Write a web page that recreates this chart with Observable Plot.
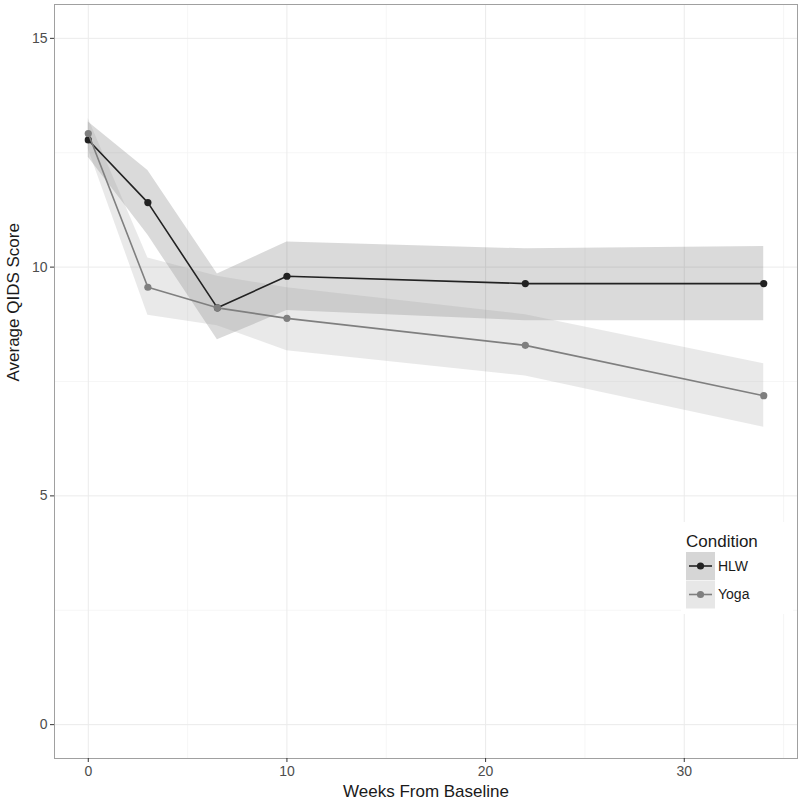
<!DOCTYPE html>
<html>
<head>
<meta charset="utf-8">
<script src="https://cdn.jsdelivr.net/npm/d3@7"></script>
<script src="https://cdn.jsdelivr.net/npm/@observablehq/plot@0.6"></script>
<style>
  body { margin: 0; background: #fff; }
  #chart { width: 800px; height: 800px; }
</style>
</head>
<body>
<div id="chart"></div>
<script>
// ---- data ----
const weeks = [0, 3, 6.5, 10, 22, 34];
const hlwMean  = [12.78, 11.41, 9.11, 9.80, 9.64, 9.64];
const hlwLower = [12.40, 10.70, 8.41, 9.05, 8.83, 8.83];
const hlwUpper = [13.17, 12.11, 9.85, 10.55, 10.40, 10.45];
const yogaMean  = [12.92, 9.56, 9.11, 8.88, 8.29, 7.19];
const yogaLower = [12.58, 8.95, 8.72, 8.17, 7.62, 6.50];
const yogaUpper = [13.25, 10.20, 9.80, 9.55, 8.96, 7.89];
const conditions = ["HLW", "Yoga"];
const xTicks = [0, 10, 20, 30];
const yTicks = [0, 5, 10, 15];
const xMinor = [5, 15, 25, 35];
const yMinor = [2.5, 7.5, 12.5];

// ---- styles ----
const lineColor = {HLW: "#222222", Yoga: "#7f7f7f"};
const ribbonFill = {HLW: "#333333", Yoga: "#999999"};
const ribbonOpacity = {HLW: 0.18, Yoga: 0.22};
const font = "'Liberation Sans', Arial, Helvetica, sans-serif";

const hlw = weeks.map((w, i) => ({cond: "HLW", week: w, mean: hlwMean[i], lo: hlwLower[i], hi: hlwUpper[i]}));
const yoga = weeks.map((w, i) => ({cond: "Yoga", week: w, mean: yogaMean[i], lo: yogaLower[i], hi: yogaUpper[i]}));
const series = {HLW: hlw, Yoga: yoga};

const marks = [
  Plot.gridX(xMinor, {stroke: "#f4f4f4", strokeOpacity: 1, strokeWidth: 0.8}),
  Plot.gridY(yMinor, {stroke: "#f4f4f4", strokeOpacity: 1, strokeWidth: 0.8}),
  Plot.gridX(xTicks, {stroke: "#ebebeb", strokeOpacity: 1, strokeWidth: 1}),
  Plot.gridY(yTicks, {stroke: "#ebebeb", strokeOpacity: 1, strokeWidth: 1})
];
for (const c of conditions) {
  marks.push(Plot.areaY(series[c], {x: "week", y1: "lo", y2: "hi", fill: ribbonFill[c], fillOpacity: ribbonOpacity[c]}));
}
for (const c of conditions) {
  marks.push(Plot.lineY(series[c], {x: "week", y: "mean", stroke: lineColor[c], strokeWidth: 1.6}));
  marks.push(Plot.dot(series[c], {x: "week", y: "mean", r: 3.6, fill: lineColor[c], stroke: "none"}));
}
marks.push(
  Plot.frame({stroke: "#a0a0a0", strokeWidth: 1}),
  Plot.axisX({ticks: xTicks, tickSize: 4, tickPadding: 4, color: "#333333", fontSize: 14, label: null}),
  Plot.axisY({ticks: yTicks, tickSize: 4, tickPadding: 3, color: "#333333", fontSize: 14, label: null}),
  Plot.text(["Weeks From Baseline"], {frameAnchor: "bottom", dy: 33, fontSize: 17, fill: "#1a1a1a", lineAnchor: "middle"}),
  Plot.text(["Average QIDS Score"], {frameAnchor: "left", dx: -41, rotate: -90, fontSize: 17, fill: "#1a1a1a", lineAnchor: "middle"})
);

const chart = Plot.plot({
  width: 800,
  height: 800,
  marginLeft: 54,
  marginRight: 3,
  marginTop: 4,
  marginBottom: 42,
  style: {fontFamily: font, fontSize: "14px", background: "#fff"},
  x: {domain: [-1.7, 35.7]},
  y: {domain: [-0.74, 15.74]},
  marks
});

const svg = d3.select(chart);
svg.selectAll('g[aria-label="x-axis tick label"], g[aria-label="y-axis tick label"]').attr("fill", "#4d4d4d");

// ---- legend inside the panel (built from the same series/colours) ----
const lg = svg.append("g").attr("font-family", font).attr("text-anchor", "start");
lg.append("rect").attr("x", 681).attr("y", 522).attr("width", 112).attr("height", 92).attr("fill", "#fff");
lg.append("text").attr("x", 686).attr("y", 547).attr("font-size", 17).attr("fill", "#1a1a1a")
  .attr("text-anchor", "start").text("Condition");
conditions.forEach((c, i) => {
  const y0 = 552 + i * 28.5;
  lg.append("rect").attr("x", 686).attr("y", y0).attr("width", 29).attr("height", 28).attr("fill", "#fff");
  lg.append("rect").attr("x", 686).attr("y", y0).attr("width", 29).attr("height", 28)
    .attr("fill", ribbonFill[c]).attr("fill-opacity", ribbonOpacity[c] + 0.02);
  lg.append("line").attr("x1", 689).attr("x2", 712).attr("y1", y0 + 14).attr("y2", y0 + 14)
    .attr("stroke", lineColor[c]).attr("stroke-width", 1.6);
  lg.append("circle").attr("cx", 700.5).attr("cy", y0 + 14).attr("r", 3.6).attr("fill", lineColor[c]);
  lg.append("text").attr("x", 718).attr("y", y0 + 14).attr("dy", "0.35em").attr("font-size", 14)
    .attr("text-anchor", "start").attr("fill", "#1a1a1a").text(c);
});

document.getElementById("chart").appendChild(chart);
</script>
</body>
</html>
